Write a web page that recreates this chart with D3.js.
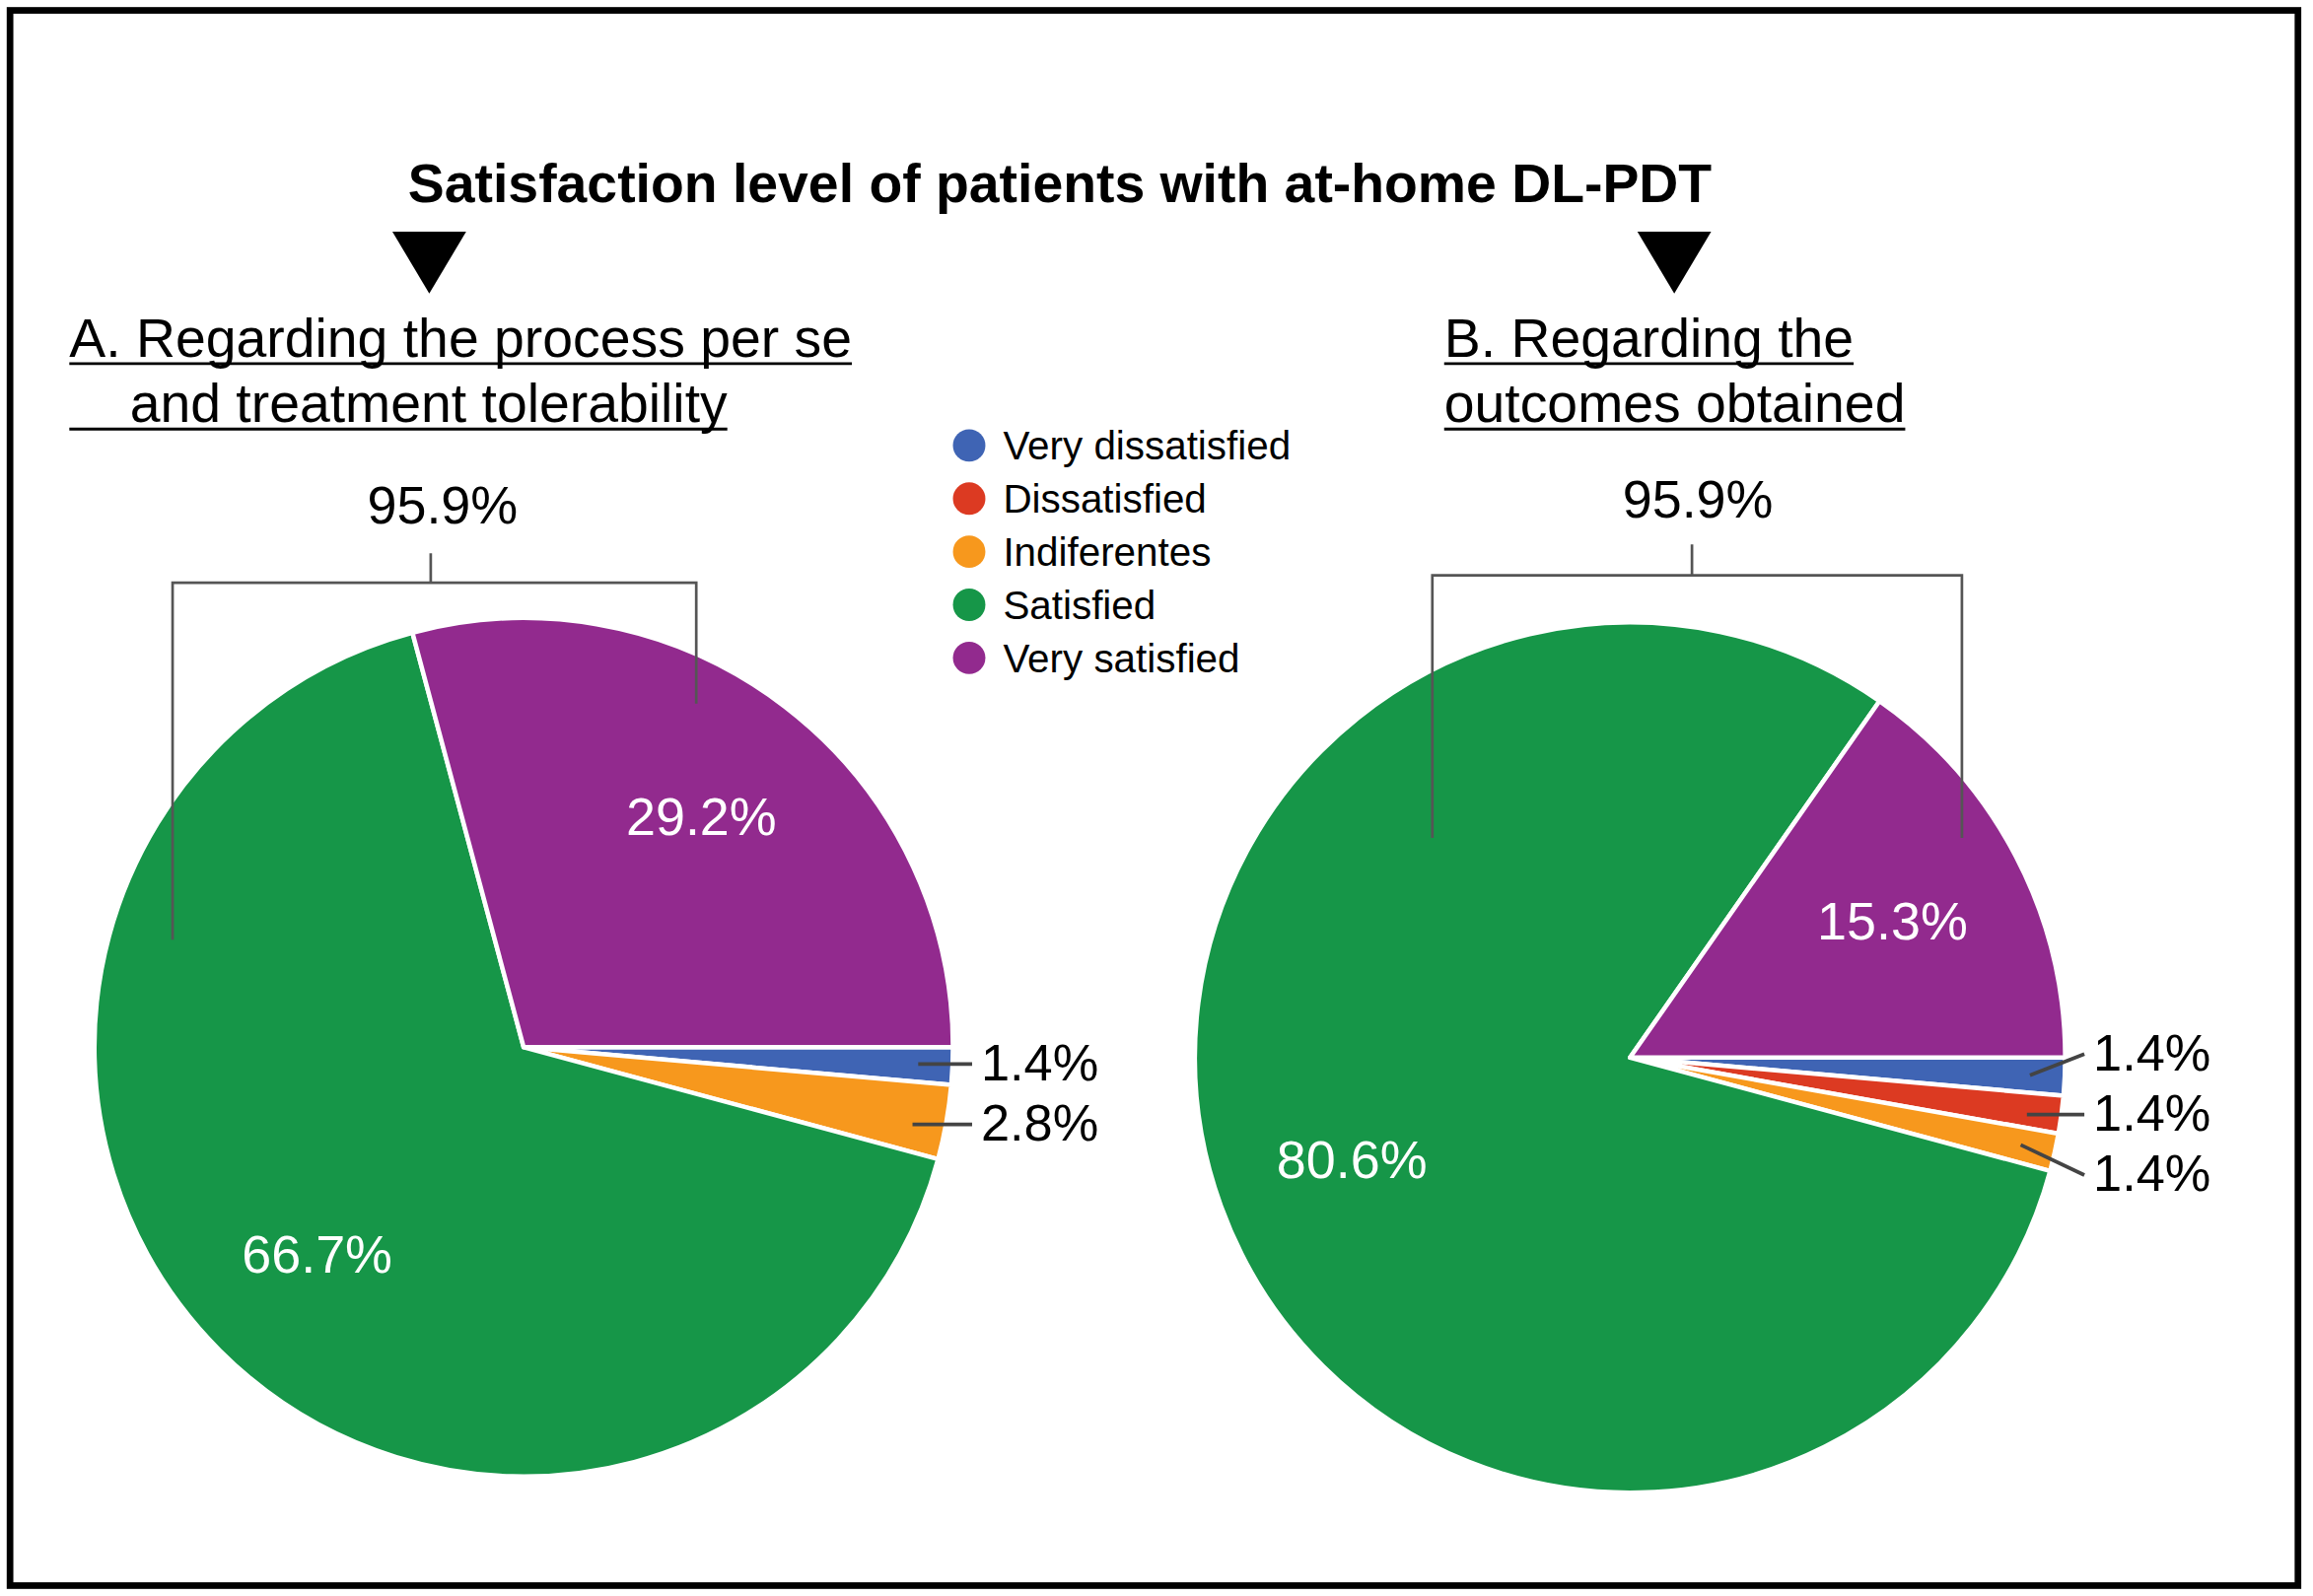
<!DOCTYPE html>
<html>
<head>
<meta charset="utf-8">
<script src="https://cdn.jsdelivr.net/npm/d3@7"></script>
<style>
  body { margin: 0; background: #fff; }
  text { font-family: "Liberation Sans", Arial, Helvetica, sans-serif; }
</style>
</head>
<body>
<div id="chart"></div>
<script>
// ---- data ----
var chartTitle = "Satisfaction level of patients with at-home DL-PDT";
var categories = ["Very dissatisfied", "Dissatisfied", "Indiferentes", "Satisfied", "Very satisfied"];
var processValues = [1.4, 0, 2.8, 66.7, 29.2];   // A. process per se / tolerability
var outcomeValues = [1.4, 1.4, 1.4, 80.6, 15.3]; // B. outcomes obtained
var panelTitles = [
    ["A. Regarding the process per se", "and treatment tolerability"],
    ["B. Regarding the", "outcomes obtained"]
];
var bracketGroup = ["Satisfied", "Very satisfied"];

// ---- styles ----
var palette = ["#3f64b4", "#dc3a22", "#f7981d", "#169648", "#922a8e"];
var color = d3.scaleOrdinal().domain(categories).range(palette);

var W = 1568, H = 1082;

var svg = d3.select("#chart")
    .append("svg")
    .attr("width", 2346)
    .attr("height", 1619)
    .attr("viewBox", "0 0 " + W + " " + H);

svg.append("rect").attr("width", W).attr("height", H).attr("fill", "#fff");

// outer frame
svg.append("rect")
    .attr("x", 6.8).attr("y", 7)
    .attr("width", 1551).attr("height", 1068)
    .attr("fill", "none")
    .attr("stroke", "#000")
    .attr("stroke-width", 4.5);

// main title
svg.append("text")
    .attr("x", 718.5).attr("y", 137)
    .attr("text-anchor", "middle")
    .style("font-size", "37px")
    .style("font-weight", "bold")
    .text(chartTitle);

// layout of each panel
var panels = [
    { values: processValues, title: panelTitles[0], cx: 355, cy: 710, r: 291,
      titleX: 47, indent: [0, 41], arrowX: 291,
      bracket: { x0: 117, x1: 472, y: 395, tickX: 292, tickTop: 375, leftEnd: 637, rightEnd: 477, labelX: 300, labelY: 355 } },
    { values: outcomeValues, title: panelTitles[1], cx: 1105, cy: 717, r: 295,
      titleX: 979, indent: [0, 0], arrowX: 1135,
      bracket: { x0: 971, x1: 1330, y: 390, tickX: 1147, tickTop: 369, leftEnd: 568, rightEnd: 568, labelX: 1151, labelY: 351 } }
];

var pie = d3.pie()
    .sort(null)
    .startAngle(Math.PI / 2)
    .endAngle(Math.PI / 2 + 2 * Math.PI)
    .value(function(d) { return d.value; });

function fmt(v) { return v.toFixed(1) + "%"; }

// y on the ray of angle a (d3 convention, clockwise from 12 o'clock) at a given x
function rayY(p, a, x) {
    return p.cy - (x - p.cx) * Math.cos(a) / Math.sin(a);
}

// push overlapping labels apart, keeping their mean
function spread(items, gap) {
    items.sort(function(a, b) { return a.y - b.y; });
    for (var k = 0; k < 300; k++) {
        var moved = false;
        for (var i = 1; i < items.length; i++) {
            var d = items[i].y - items[i - 1].y;
            if (d < gap - 0.01) {
                var s = (gap - d) / 2;
                items[i - 1].y -= s;
                items[i].y += s;
                moved = true;
            }
        }
        if (!moved) break;
    }
}

panels.forEach(function(p) {
    var g = svg.append("g");

    // arrow under the title
    g.append("path")
        .attr("d", "M" + (p.arrowX - 25) + ",157 L" + (p.arrowX + 25) + ",157 L" + p.arrowX + ",199 Z")
        .attr("fill", "#000");

    // underlined subtitle (two lines)
    p.title.forEach(function(line, i) {
        var base = 241.7 + i * 44.3;
        var t = g.append("text")
            .attr("x", p.titleX + p.indent[i])
            .attr("y", base)
            .style("font-size", "37px")
            .text(line);
        var end = p.titleX + p.indent[i] + t.node().getComputedTextLength();
        g.append("line")
            .attr("x1", p.titleX).attr("x2", end)
            .attr("y1", base + 4.8).attr("y2", base + 4.8)
            .attr("stroke", "#000")
            .attr("stroke-width", 2);
    });

    var data = categories.map(function(c, i) { return { name: c, value: p.values[i] }; });
    var arcs = pie(data).filter(function(d) { return d.data.value > 0; });

    var arc = d3.arc().innerRadius(0).outerRadius(p.r);
    var labelArc = d3.arc().innerRadius(p.r * 0.68).outerRadius(p.r * 0.68);

    var pg = g.append("g").attr("transform", "translate(" + p.cx + "," + p.cy + ")");

    pg.selectAll("path.slice")
        .data(arcs)
        .enter()
        .append("path")
        .attr("class", "slice")
        .attr("d", arc)
        .attr("fill", function(d) { return color(d.data.name); })
        .attr("stroke", "#fff")
        .attr("stroke-width", 3)
        .attr("stroke-linejoin", "round");

    // big slices: labels inside
    pg.selectAll("text.inner")
        .data(arcs.filter(function(d) { return d.data.value >= 10; }))
        .enter()
        .append("text")
        .attr("class", "inner")
        .attr("transform", function(d) {
            var c = labelArc.centroid(d);
            return "translate(" + c[0] + "," + (c[1] + 12.9) + ")";
        })
        .attr("text-anchor", "middle")
        .attr("fill", "#fff")
        .style("font-size", "36px")
        .text(function(d) { return fmt(d.data.value); });

    // small slices: labels outside with leader lines
    var small = arcs.filter(function(d) { return d.data.value < 10; }).map(function(d) {
        var a = (d.startAngle + d.endAngle) / 2;
        return {
            d: d,
            a: a,
            ax: p.cx + 0.92 * p.r * Math.sin(a),
            ay: p.cy - 0.92 * p.r * Math.cos(a),
            y: p.cy - p.r * Math.cos(a)
        };
    });
    spread(small, 41);

    small.forEach(function(s) {
        var y0 = rayY(p, s.d.startAngle, s.ax), y1 = rayY(p, s.d.endAngle, s.ax);
        var inside = s.y >= Math.min(y0, y1) && s.y <= Math.max(y0, y1);
        var x2 = p.cx + p.r + 13;
        g.append("line")
            .attr("x1", s.ax)
            .attr("y1", inside ? s.y : s.ay)
            .attr("x2", x2)
            .attr("y2", s.y)
            .attr("stroke", "#444")
            .attr("stroke-width", 2.5);
        g.append("text")
            .attr("x", p.cx + p.r + 19)
            .attr("y", s.y + 11)
            .style("font-size", "35px")
            .attr("fill", "#000")
            .text(fmt(s.d.data.value));
    });

    // bracket over satisfied + very satisfied
    var b = p.bracket;
    var groupTotal = d3.sum(data.filter(function(d) { return bracketGroup.indexOf(d.name) >= 0; }),
        function(d) { return d.value; });
    g.append("path")
        .attr("d", "M" + b.x0 + "," + b.leftEnd + " L" + b.x0 + "," + b.y +
                   " L" + b.x1 + "," + b.y + " L" + b.x1 + "," + b.rightEnd +
                   " M" + b.tickX + "," + b.tickTop + " L" + b.tickX + "," + b.y)
        .attr("fill", "none")
        .attr("stroke", "#555")
        .attr("stroke-width", 1.8);
    g.append("text")
        .attr("x", b.labelX).attr("y", b.labelY)
        .attr("text-anchor", "middle")
        .style("font-size", "36px")
        .text(fmt(groupTotal));
});

// legend
var legend = svg.append("g").attr("transform", "translate(657,302)");
var rows = legend.selectAll("g.row")
    .data(categories)
    .enter()
    .append("g")
    .attr("class", "row")
    .attr("transform", function(d, i) { return "translate(0," + (i * 36) + ")"; });
rows.append("circle")
    .attr("r", 11)
    .attr("fill", function(d) { return color(d); });
rows.append("text")
    .attr("x", 23)
    .attr("y", 9.7)
    .style("font-size", "27px")
    .text(function(d) { return d; });
</script>
</body>
</html>
